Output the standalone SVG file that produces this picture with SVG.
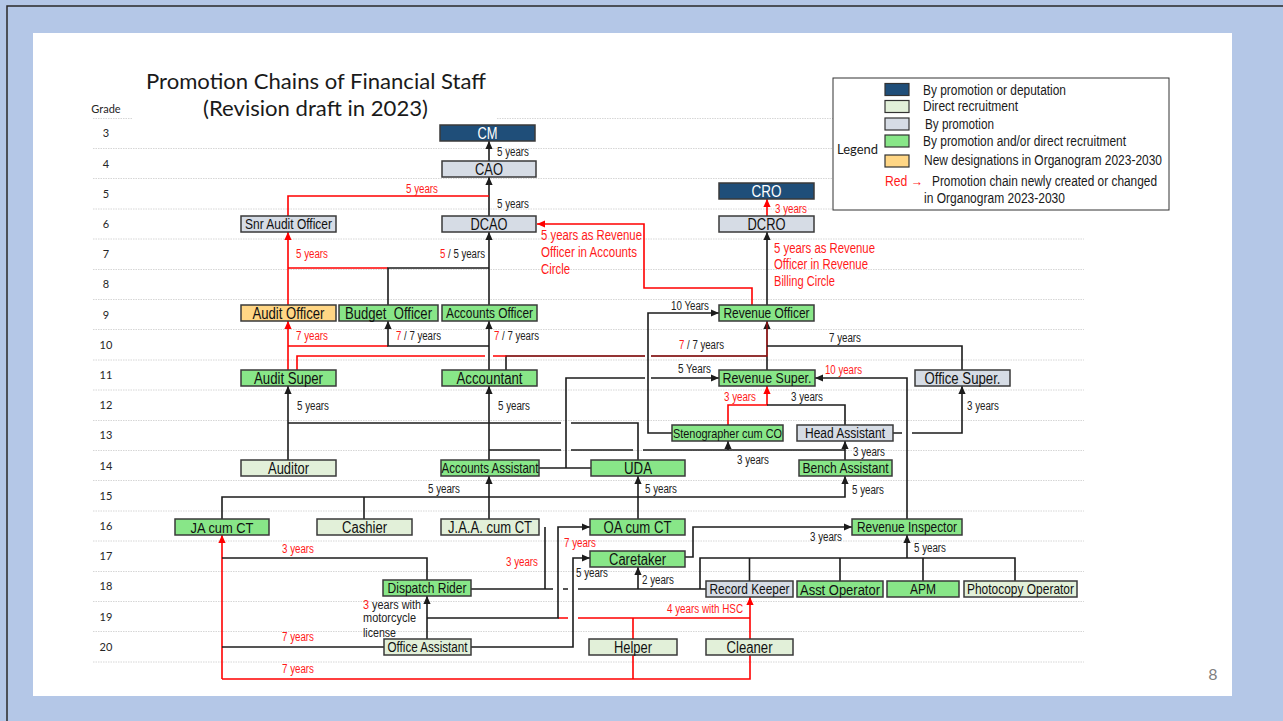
<svg xmlns="http://www.w3.org/2000/svg" width="1283" height="721" viewBox="0 0 1283 721">
<defs>
<style>
.ttl{font-family:Lato,"Liberation Sans",sans-serif;font-size:21px;fill:#1a1a1a}
.gr{font-family:Lato,"Liberation Sans",sans-serif;font-size:11px;fill:#262626;text-anchor:middle}
.grid{fill:none;stroke:#d6d6d6;stroke-width:1;stroke-dasharray:1.5 1}
.node rect{stroke:#3a3a3a;stroke-width:1.5}
.node text{font-family:"Liberation Sans Narrow","Liberation Sans",Arial,sans-serif;font-size:16px;fill:#111;text-anchor:middle}
.dk rect{fill:#1F4E79}
.dk text{fill:#ffffff}
.gy rect{fill:#D6DCE5}
.gn rect{fill:#88E688}
.lg rect{fill:#E2F0D9}
.or rect{fill:#FFD685}
.w{fill:none;stroke:#1c1c1c;stroke-width:1.6}
.wr{fill:none;stroke:#ff0000;stroke-width:1.6}
.ab{marker-end:url(#ab)}
.ar{marker-end:url(#ar)}
.lb{font-family:"Liberation Sans Narrow","Liberation Sans",Arial,sans-serif;font-size:12px;fill:#222}
.lt{font-family:"Liberation Sans Narrow","Liberation Sans",Arial,sans-serif;font-size:14px;fill:#ff1a1a}
.lr{fill:#ff1a1a}
.leg{font-family:"Liberation Sans Narrow","Liberation Sans",Arial,sans-serif;font-size:14px;fill:#1a1a1a}
.sw{stroke:#333;stroke-width:1.2}
</style>
<marker id="ab" viewBox="0 0 10 10" refX="10" refY="5" markerWidth="8" markerHeight="8" markerUnits="userSpaceOnUse" orient="auto"><path d="M0,0.5L10,5L0,9.5z" fill="#1c1c1c"/></marker>
<marker id="ar" viewBox="0 0 10 10" refX="10" refY="5" markerWidth="8" markerHeight="8" markerUnits="userSpaceOnUse" orient="auto"><path d="M0,0.5L10,5L0,9.5z" fill="#ff0000"/></marker>
</defs>

<!-- slide background and frame -->
<rect x="0" y="0" width="1283" height="721" fill="#B4C7E7"/>
<path d="M7,721V6H1283" fill="none" stroke="#2a2a2a" stroke-width="1.5"/>
<rect x="33" y="33" width="1199" height="663" fill="#ffffff"/>

<!-- grade grid -->
<path class="grid" d="M93,118.5H133M497,118.5H1084M93,148.5H1084M93,178.5H1084M93,209H1084M93,239H1084M93,269.5H1084M93,299.5H1084M93,329.5H1084M93,360H1084M93,390H1084M93,420.5H1084M93,450.5H1084M93,480.5H1084M93,511H1084M93,541H1084M93,571.5H1084M93,601.5H1084M93,631.5H1084M93,662H1084"/>
<g id="grades">
<text class="gr" x="106" y="113">Grade</text>
<text class="gr" x="106" y="137.3">3</text>
<text class="gr" x="106" y="167.5">4</text>
<text class="gr" x="106" y="197.7">5</text>
<text class="gr" x="106" y="227.9">6</text>
<text class="gr" x="106" y="258.1">7</text>
<text class="gr" x="106" y="288.3">8</text>
<text class="gr" x="106" y="318.5">9</text>
<text class="gr" x="106" y="348.7">10</text>
<text class="gr" x="106" y="378.9">11</text>
<text class="gr" x="106" y="409.1">12</text>
<text class="gr" x="106" y="439.3">13</text>
<text class="gr" x="106" y="469.5">14</text>
<text class="gr" x="106" y="499.7">15</text>
<text class="gr" x="106" y="529.9">16</text>
<text class="gr" x="106" y="560.1">17</text>
<text class="gr" x="106" y="590.3">18</text>
<text class="gr" x="106" y="620.5">19</text>
<text class="gr" x="106" y="650.7">20</text>
</g>

<!-- title -->
<g id="title">
<text class="ttl" x="146" y="89" textLength="340" lengthAdjust="spacingAndGlyphs">Promotion Chains of Financial Staff</text>
<text class="ttl" x="203" y="116" textLength="225" lengthAdjust="spacingAndGlyphs">(Revision draft in 2023)</text>
</g>

<!-- legend -->
<g id="legend">
<rect x="833" y="78" width="336" height="132" fill="#ffffff" stroke="#333" stroke-width="1"/>
<rect class="sw" x="885" y="83.5" width="24" height="12" fill="#1F4E79"/>
<rect class="sw" x="885" y="100.5" width="24" height="12" fill="#E2F0D9"/>
<rect class="sw" x="885" y="118" width="24" height="12" fill="#D6DCE5"/>
<rect class="sw" x="885" y="135" width="24" height="12" fill="#88E688"/>
<rect class="sw" x="885" y="155" width="24" height="12" fill="#FFD685"/>
<text x="837" y="153.5" font-family="Lato, 'Liberation Sans', sans-serif" font-size="13" fill="#1a1a1a" textLength="41" lengthAdjust="spacingAndGlyphs">Legend</text>
<text class="leg" x="923" y="95" textLength="143" lengthAdjust="spacingAndGlyphs">By promotion or deputation</text>
<text class="leg" x="923" y="111" textLength="95" lengthAdjust="spacingAndGlyphs">Direct recruitment</text>
<text class="leg" x="925" y="129" textLength="69" lengthAdjust="spacingAndGlyphs">By promotion</text>
<text class="leg" x="923" y="146" textLength="203" lengthAdjust="spacingAndGlyphs">By promotion and/or direct recruitment</text>
<text class="leg" x="924" y="165" textLength="238" lengthAdjust="spacingAndGlyphs">New designations in Organogram 2023-2030</text>
<text class="leg" x="885" y="186" textLength="38" lengthAdjust="spacingAndGlyphs" style="fill:#ff1a1a">Red →</text>
<text class="leg" x="932" y="186" textLength="225" lengthAdjust="spacingAndGlyphs">Promotion chain newly created or changed</text>
<text class="leg" x="924" y="203" textLength="141" lengthAdjust="spacingAndGlyphs">in Organogram 2023-2030</text>
</g>

<!-- connectors -->
<g id="connectors">
<path class="w ab" d="M489,161V141"/>
<path class="w ab" d="M489,216V177"/>
<path class="wr" d="M288,216V196H489"/>
<path class="wr ar" d="M288,305V232"/>
<path class="wr" d="M288,268H388"/>
<path class="w" d="M388,305V268H489"/>
<path class="w ab" d="M489,305V232"/>
<path class="wr ar" d="M752,305V288H644V224H537"/>
<path class="wr ar" d="M767,216V199"/>
<path class="w ab" d="M767,305V232"/>
<path class="wr ar" d="M288,370V321"/>
<path class="wr" d="M288,346H388"/>
<path class="w ab" d="M489,346H388V321"/>
<path class="w ab" d="M489,370V321"/>
<path class="w" d="M506,370V356H645M651,356H767"/>
<path class="w ab" d="M767,370V321"/>
<path class="wr" d="M297,370V356H485M493,356H506"/>
<path class="wr" style="stroke-opacity:0.5" d="M506,356H645M651,356H767V322"/>
<path class="w" d="M962,370V346H767"/>
<path class="w ab" d="M672,433H648V313H719"/>
<path class="w ab" d="M566,468V378H645M651,378H719"/>
<path class="w ab" d="M907,519V378H815"/>
<path class="wr ar" d="M728,425V405H767V386"/>
<path class="w" d="M845,425V405H767"/>
<path class="w ab" d="M893,433H902M912,433H962V386"/>
<path class="w ab" d="M288,460V386"/>
<path class="w ab" d="M489,460V386"/>
<path class="w" d="M288,423H561M571,423H638V460"/>
<path class="w" d="M489,450H561M571,450H633M643,450H845"/>
<path class="w ab" d="M728,450V441"/>
<path class="w ab" d="M845,460V441"/>
<path class="w" d="M539,468H591"/>
<path class="w ab" d="M222,519V497H845V476"/>
<path class="w" d="M364,519V497"/>
<path class="w ab" d="M489,519V476"/>
<path class="w ab" d="M638,519V476"/>
<path class="wr ar" d="M222,679V535"/>
<path class="wr ar" d="M222,679H750V597"/>
<path class="wr" d="M633,618V679M558,618H568M578,618H750"/>
<path class="w" d="M222,558H427V580"/>
<path class="w" d="M222,647H384"/>
<path class="w ab" d="M427,639V596"/>
<path class="w ab" d="M427,618H558V527H590"/>
<path class="w" d="M471,589H553M563,589H568M578,589H706M545,589V527"/>
<path class="w ab" d="M471,647H573V558H590"/>
<path class="w ab" d="M638,589V567"/>
<path class="w ab" d="M685,557H693V527H852"/>
<path class="w" d="M700,589V558H1015V581M749.5,558V581M840,558V581M923,558V581"/>
<path class="w ab" d="M907,558V535"/>
</g>

<!-- connector labels -->
<g id="labels">
<text class="lb" x="497" y="155.8" textLength="32" lengthAdjust="spacingAndGlyphs">5 years</text>
<text class="lb" x="497" y="208.3" textLength="32" lengthAdjust="spacingAndGlyphs">5 years</text>
<text class="lb lr" x="406" y="193.3" textLength="32" lengthAdjust="spacingAndGlyphs">5 years</text>
<text class="lb lr" x="296" y="258.3" textLength="32" lengthAdjust="spacingAndGlyphs">5 years</text>
<text class="lb" x="440" y="258.3" textLength="45" lengthAdjust="spacingAndGlyphs"><tspan class="lr">5</tspan> / 5 years</text>
<text class="lb lr" x="775" y="213.3" textLength="32" lengthAdjust="spacingAndGlyphs">3 years</text>
<text class="lt" x="541" y="240" textLength="101" lengthAdjust="spacingAndGlyphs">5 years as Revenue</text>
<text class="lt" x="541" y="257" textLength="96" lengthAdjust="spacingAndGlyphs">Officer in Accounts</text>
<text class="lt" x="541" y="273.5" textLength="29" lengthAdjust="spacingAndGlyphs">Circle</text>
<text class="lt" x="774" y="252.5" textLength="101" lengthAdjust="spacingAndGlyphs">5 years as Revenue</text>
<text class="lt" x="774" y="269" textLength="94" lengthAdjust="spacingAndGlyphs">Officer in Revenue</text>
<text class="lt" x="774" y="285.5" textLength="61" lengthAdjust="spacingAndGlyphs">Billing Circle</text>
<text class="lb lr" x="296" y="340.3" textLength="32" lengthAdjust="spacingAndGlyphs">7 years</text>
<text class="lb" x="396" y="340.3" textLength="45" lengthAdjust="spacingAndGlyphs"><tspan class="lr">7</tspan> / 7 years</text>
<text class="lb" x="494" y="340.3" textLength="45" lengthAdjust="spacingAndGlyphs"><tspan class="lr">7</tspan> / 7 years</text>
<text class="lb" x="671" y="310" textLength="38" lengthAdjust="spacingAndGlyphs">10 Years</text>
<text class="lb" x="679" y="349.3" textLength="45" lengthAdjust="spacingAndGlyphs"><tspan class="lr">7</tspan> / 7 years</text>
<text class="lb" x="829" y="342" textLength="32" lengthAdjust="spacingAndGlyphs">7 years</text>
<text class="lb" x="678" y="373.3" textLength="33" lengthAdjust="spacingAndGlyphs">5 Years</text>
<text class="lb lr" x="825" y="374.3" textLength="37" lengthAdjust="spacingAndGlyphs">10 years</text>
<text class="lb lr" x="724" y="401.3" textLength="32" lengthAdjust="spacingAndGlyphs">3 years</text>
<text class="lb" x="791" y="401.3" textLength="32" lengthAdjust="spacingAndGlyphs">3 years</text>
<text class="lb" x="967" y="410.3" textLength="32" lengthAdjust="spacingAndGlyphs">3 years</text>
<text class="lb" x="297" y="410.3" textLength="32" lengthAdjust="spacingAndGlyphs">5 years</text>
<text class="lb" x="498" y="410.3" textLength="32" lengthAdjust="spacingAndGlyphs">5 years</text>
<text class="lb" x="737" y="464.3" textLength="32" lengthAdjust="spacingAndGlyphs">3 years</text>
<text class="lb" x="853" y="456.3" textLength="32" lengthAdjust="spacingAndGlyphs">3 years</text>
<text class="lb" x="428" y="493.3" textLength="32" lengthAdjust="spacingAndGlyphs">5 years</text>
<text class="lb" x="645" y="493.3" textLength="32" lengthAdjust="spacingAndGlyphs">5 years</text>
<text class="lb" x="852" y="494.3" textLength="32" lengthAdjust="spacingAndGlyphs">5 years</text>
<text class="lb lr" x="282" y="553.3" textLength="32" lengthAdjust="spacingAndGlyphs">3 years</text>
<text class="lb lr" x="506" y="566" textLength="32" lengthAdjust="spacingAndGlyphs">3 years</text>
<text class="lb lr" x="564" y="547" textLength="32" lengthAdjust="spacingAndGlyphs">7 years</text>
<text class="lb" x="576" y="577.3" textLength="32" lengthAdjust="spacingAndGlyphs">5 years</text>
<text class="lb" x="642" y="584.3" textLength="32" lengthAdjust="spacingAndGlyphs">2 years</text>
<text class="lb" x="810" y="541.3" textLength="32" lengthAdjust="spacingAndGlyphs">3 years</text>
<text class="lb" x="914" y="552.3" textLength="32" lengthAdjust="spacingAndGlyphs">5 years</text>
<text class="lb" x="363" y="608.5" textLength="58" lengthAdjust="spacingAndGlyphs"><tspan class="lr">3</tspan> years with</text>
<text class="lb" x="363" y="622.3" textLength="53" lengthAdjust="spacingAndGlyphs">motorcycle</text>
<text class="lb" x="363" y="636.7" textLength="33" lengthAdjust="spacingAndGlyphs">license</text>
<text class="lb lr" x="667" y="613.3" textLength="76" lengthAdjust="spacingAndGlyphs">4 years with HSC</text>
<text class="lb lr" x="282" y="641" textLength="32" lengthAdjust="spacingAndGlyphs">7 years</text>
<text class="lb lr" x="282" y="673.3" textLength="32" lengthAdjust="spacingAndGlyphs">7 years</text>
</g>

<!-- nodes -->
<g id="n-cm" class="node dk"><rect x="440" y="125" width="95" height="16"/><text x="487.5" y="138.7" textLength="20" lengthAdjust="spacingAndGlyphs">CM</text></g>
<g id="n-cao" class="node gy"><rect x="442" y="161" width="94" height="16"/><text x="489" y="174.7" textLength="28" lengthAdjust="spacingAndGlyphs">CAO</text></g>
<g id="n-dcao" class="node gy"><rect x="442" y="216" width="94" height="16"/><text x="489" y="229.7" textLength="37" lengthAdjust="spacingAndGlyphs">DCAO</text></g>
<g id="n-snr-audit-officer" class="node gy"><rect x="241" y="216" width="95" height="16"/><text x="288.5" y="229.2" style="font-size:14.5px" textLength="87" lengthAdjust="spacingAndGlyphs">Snr Audit Officer</text></g>
<g id="n-cro" class="node dk"><rect x="719" y="183" width="95" height="16"/><text x="766.5" y="196.7" textLength="30" lengthAdjust="spacingAndGlyphs">CRO</text></g>
<g id="n-dcro" class="node gy"><rect x="719" y="216" width="95" height="16"/><text x="766.5" y="229.7" textLength="38" lengthAdjust="spacingAndGlyphs">DCRO</text></g>
<g id="n-audit-officer" class="node or"><rect x="241" y="305" width="95" height="16"/><text x="288.5" y="318.7" textLength="72" lengthAdjust="spacingAndGlyphs">Audit Officer</text></g>
<g id="n-budget-officer" class="node gn"><rect x="339" y="305" width="99" height="16"/><text x="388.5" y="318.7" xml:space="preserve" textLength="87" lengthAdjust="spacingAndGlyphs">Budget  Officer</text></g>
<g id="n-accounts-officer" class="node gn"><rect x="442" y="305" width="95" height="16"/><text x="489.5" y="318.2" style="font-size:14.5px" textLength="87" lengthAdjust="spacingAndGlyphs">Accounts Officer</text></g>
<g id="n-revenue-officer" class="node gn"><rect x="719" y="305" width="95" height="16"/><text x="766.5" y="318.2" style="font-size:14.5px" textLength="86" lengthAdjust="spacingAndGlyphs">Revenue Officer</text></g>
<g id="n-audit-super" class="node gn"><rect x="241" y="370" width="95" height="16"/><text x="288.5" y="383.7" textLength="69" lengthAdjust="spacingAndGlyphs">Audit Super</text></g>
<g id="n-accountant" class="node gn"><rect x="442" y="370" width="95" height="16"/><text x="489.5" y="383.7" textLength="66" lengthAdjust="spacingAndGlyphs">Accountant</text></g>
<g id="n-revenue-super" class="node gn"><rect x="719" y="370" width="96" height="16"/><text x="767" y="383.4" style="font-size:15px" textLength="89" lengthAdjust="spacingAndGlyphs">Revenue Super.</text></g>
<g id="n-office-super" class="node gy"><rect x="915" y="370" width="95" height="16"/><text x="962.5" y="383.7" textLength="76" lengthAdjust="spacingAndGlyphs">Office Super.</text></g>
<g id="n-stenographer" class="node gn"><rect x="672" y="425" width="111" height="16"/><text x="727.5" y="437.7" style="font-size:13px" textLength="109" lengthAdjust="spacingAndGlyphs">Stenographer cum CO</text></g>
<g id="n-head-assistant" class="node gy"><rect x="797" y="425" width="96" height="16"/><text x="845" y="438" style="font-size:14px" textLength="80" lengthAdjust="spacingAndGlyphs">Head Assistant</text></g>
<g id="n-auditor" class="node lg"><rect x="241" y="460" width="95" height="16"/><text x="288.5" y="473.7" textLength="41" lengthAdjust="spacingAndGlyphs">Auditor</text></g>
<g id="n-accounts-assistant" class="node gn"><rect x="441" y="460" width="98" height="16"/><text x="490" y="473" style="font-size:14px" textLength="97" lengthAdjust="spacingAndGlyphs">Accounts Assistant</text></g>
<g id="n-uda" class="node gn"><rect x="591" y="460" width="94" height="16"/><text x="638" y="473.7" textLength="28" lengthAdjust="spacingAndGlyphs">UDA</text></g>
<g id="n-bench-assistant" class="node gn"><rect x="799" y="460" width="93" height="16"/><text x="845.5" y="473.2" style="font-size:14.5px" textLength="86" lengthAdjust="spacingAndGlyphs">Bench Assistant</text></g>
<g id="n-ja-cum-ct" class="node gn"><rect x="175" y="519" width="94" height="16"/><text x="222" y="532.6" style="font-size:15.5px" textLength="63" lengthAdjust="spacingAndGlyphs">JA cum CT</text></g>
<g id="n-cashier" class="node lg"><rect x="317" y="519" width="95" height="16"/><text x="364.5" y="532.7" textLength="45" lengthAdjust="spacingAndGlyphs">Cashier</text></g>
<g id="n-jaa-cum-ct" class="node lg"><rect x="441" y="519" width="98" height="16"/><text x="490" y="532.7" textLength="84" lengthAdjust="spacingAndGlyphs">J.A.A. cum CT</text></g>
<g id="n-oa-cum-ct" class="node gn"><rect x="590" y="519" width="95" height="16"/><text x="637.5" y="532.7" textLength="68" lengthAdjust="spacingAndGlyphs">OA cum CT</text></g>
<g id="n-revenue-inspector" class="node gn"><rect x="852" y="519" width="110" height="16"/><text x="907" y="532.2" style="font-size:14.5px" textLength="100" lengthAdjust="spacingAndGlyphs">Revenue Inspector</text></g>
<g id="n-caretaker" class="node gn"><rect x="590" y="551" width="95" height="16"/><text x="637.5" y="564.7" textLength="57" lengthAdjust="spacingAndGlyphs">Caretaker</text></g>
<g id="n-dispatch-rider" class="node gn"><rect x="383" y="580" width="88" height="16"/><text x="427" y="593.2" style="font-size:14.5px" textLength="79" lengthAdjust="spacingAndGlyphs">Dispatch Rider</text></g>
<g id="n-record-keeper" class="node gy"><rect x="706" y="581" width="87" height="16"/><text x="749.5" y="594.2" style="font-size:14.5px" textLength="80" lengthAdjust="spacingAndGlyphs">Record Keeper</text></g>
<g id="n-asst-operator" class="node gn"><rect x="797" y="581" width="86" height="16"/><text x="840" y="594.6" style="font-size:15.5px" textLength="80" lengthAdjust="spacingAndGlyphs">Asst Operator</text></g>
<g id="n-apm" class="node gn"><rect x="887" y="581" width="72" height="16"/><text x="923" y="594.2" style="font-size:14.5px" textLength="26" lengthAdjust="spacingAndGlyphs">APM</text></g>
<g id="n-photocopy-operator" class="node lg"><rect x="964" y="581" width="113" height="16"/><text x="1020.5" y="594.2" style="font-size:14.5px" textLength="107" lengthAdjust="spacingAndGlyphs">Photocopy Operator</text></g>
<g id="n-office-assistant" class="node lg"><rect x="384" y="639" width="87" height="16"/><text x="427.5" y="652" style="font-size:14px" textLength="80" lengthAdjust="spacingAndGlyphs">Office Assistant</text></g>
<g id="n-helper" class="node lg"><rect x="589" y="639" width="88" height="16"/><text x="633" y="652.7" textLength="38" lengthAdjust="spacingAndGlyphs">Helper</text></g>
<g id="n-cleaner" class="node lg"><rect x="706" y="639" width="87" height="16"/><text x="749.5" y="652.7" textLength="46" lengthAdjust="spacingAndGlyphs">Cleaner</text></g>

<!-- page number -->
<text x="1213" y="680" font-family="Lato, 'Liberation Sans', sans-serif" font-size="16" fill="#7f7f7f" text-anchor="middle">8</text>
</svg>
